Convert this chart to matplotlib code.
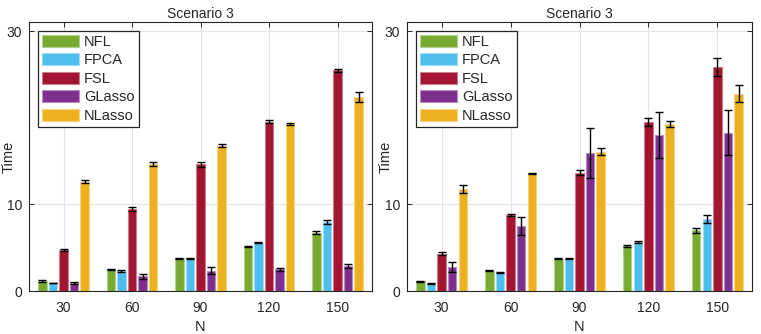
import numpy as np
import matplotlib
matplotlib.use('Agg')
import matplotlib.pyplot as plt
from matplotlib.colors import to_rgb

plt.rcParams['font.family'] = ['Liberation Sans', 'DejaVu Sans']

# ── data ────────────────────────────────────────────────────────────────────
n_labels = ['30', '60', '90', '120', '150']
methods  = ['NFL', 'FPCA', 'FSL', 'GLasso', 'NLasso']
colors   = ['#77AC30', '#4DBEEE', '#A2142F', '#7E2F8E', '#EDB120']

# left panel: mean time and error
left_nfl    = [1.15, 2.49, 3.79, 5.13, 6.74]
left_fpca   = [0.92, 2.30, 3.79, 5.59, 7.95]
left_fsl    = [4.71, 9.50, 14.62, 19.58, 25.50]
left_glasso = [0.96, 1.72, 2.34, 2.49, 2.87]
left_nlasso = [12.64, 14.70, 16.78, 19.30, 22.42]

left_nfl_err    = [0.08, 0.10, 0.05, 0.08, 0.15]
left_fpca_err   = [0.05, 0.08, 0.05, 0.06, 0.20]
left_fsl_err    = [0.10, 0.25, 0.25, 0.15, 0.15]
left_glasso_err = [0.12, 0.28, 0.38, 0.22, 0.22]
left_nlasso_err = [0.18, 0.20, 0.20, 0.08, 0.62]

# right panel
right_nfl    = [1.11, 2.34, 3.75, 5.21, 7.01]
right_fpca   = [0.84, 2.10, 3.75, 5.67, 8.35]
right_fsl    = [4.33, 8.74, 13.68, 19.55, 25.86]
right_glasso = [2.80, 7.50, 15.94, 18.00, 18.28]
right_nlasso = [11.80, 13.60, 16.09, 19.27, 22.80]

right_nfl_err    = [0.08, 0.06, 0.06, 0.14, 0.32]
right_fpca_err   = [0.06, 0.05, 0.06, 0.14, 0.48]
right_fsl_err    = [0.18, 0.12, 0.28, 0.48, 1.03]
right_glasso_err = [0.60, 1.00, 2.85, 2.64, 2.60]
right_nlasso_err = [0.44, 0.08, 0.40, 0.33, 1.00]

left_vals  = [left_nfl, left_fpca, left_fsl, left_glasso, left_nlasso]
left_errs  = [left_nfl_err, left_fpca_err, left_fsl_err, left_glasso_err, left_nlasso_err]
right_vals = [right_nfl, right_fpca, right_fsl, right_glasso, right_nlasso]
right_errs = [right_nfl_err, right_fpca_err, right_fsl_err, right_glasso_err, right_nlasso_err]

TXT = '#262626'


def lighten(c, f=0.45):
    r, g, b = to_rgb(c)
    return (r + (1 - r) * f, g + (1 - g) * f, b + (1 - b) * f)


def grouped_bars(ax, vals, errs):
    x = np.arange(1, len(n_labels) + 1)
    nb = len(vals)
    group_w = min(0.8, nb / (nb + 1.5))
    step = group_w / nb
    bw = step * 0.8
    for i, (v, e) in enumerate(zip(vals, errs)):
        off = (i - (nb - 1) / 2) * step
        ax.bar(x + off, v, width=bw, color=colors[i], edgecolor=lighten(colors[i]),
               linewidth=0.8, label=methods[i], zorder=2)
        ax.errorbar(x + off, v, yerr=e, fmt='none', ecolor='black',
                    elinewidth=1.0, capsize=2.6, capthick=1.0, zorder=3)
    ax.set_xlim(0.5, len(n_labels) + 0.5)
    ax.set_ylim(0, 31.1)
    ax.set_xticks(x)
    ax.set_xticklabels(n_labels)
    ax.set_yticks([0, 10, 30])
    ax.grid(True, color='#e3e3e3', linewidth=0.8, zorder=0)
    ax.set_axisbelow(True)
    ax.tick_params(direction='in', top=True, right=True, length=3.5, width=0.7,
                   colors=TXT, labelsize=10)
    ax.tick_params(axis='x', pad=7)
    ax.tick_params(axis='y', pad=5)
    for s in ax.spines.values():
        s.set_color(TXT)
        s.set_linewidth(0.8)
    ax.set_title('Scenario 3', fontsize=10, color=TXT, pad=3)
    ax.set_xlabel('N', fontsize=10.5, color=TXT, labelpad=4)
    ax.set_ylabel('Time', fontsize=10.5, color=TXT)
    ax.yaxis.set_label_coords(-0.041, 0.5)
    leg = ax.legend(loc='upper left', fontsize=10.5, frameon=True, fancybox=False,
                    borderaxespad=0.6, borderpad=0.3, labelspacing=0.3,
                    handlelength=2.5, handleheight=0.9, handletextpad=0.35)
    leg.get_frame().set_edgecolor(TXT)
    leg.get_frame().set_linewidth(0.9)
    leg.get_frame().set_alpha(1)
    for t in leg.get_texts():
        t.set_color(TXT)


fig = plt.figure(figsize=(7.61, 3.34), dpi=100)
ax1 = fig.add_axes([0.0385, 0.1287, 0.450, 0.806])
ax2 = fig.add_axes([0.535, 0.1287, 0.453, 0.806])
grouped_bars(ax1, left_vals, left_errs)
grouped_bars(ax2, right_vals, right_errs)

fig.savefig('out.png', dpi=100)
